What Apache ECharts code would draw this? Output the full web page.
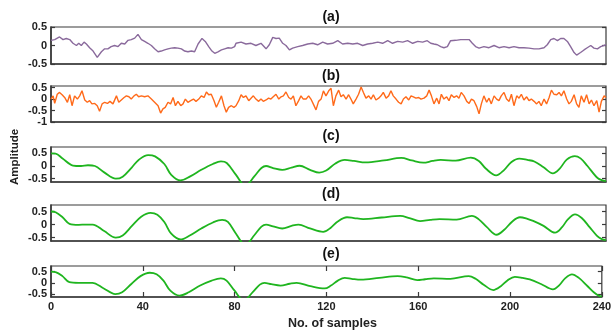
<!DOCTYPE html>
<html>
<head>
<meta charset="utf-8">
<script src="https://cdn.jsdelivr.net/npm/echarts@6/dist/echarts.min.js"></script>
<style>
  html, body { margin: 0; padding: 0; background: #fff; }
  #chart { width: 614px; height: 331px; }
</style>
</head>
<body>
<div id="chart"></div>
<script>
// sample positions on the x axis
const xTickValues = [0, 40, 80, 120, 160, 200, 240];
const panelTitles = ['(a)', '(b)', '(c)', '(d)', '(e)'];

// (a) purple noisy trace
const aX = [0, 1.6, 3.7, 5.2, 6.6, 8.1, 9.5, 11, 12, 13.1, 14.3, 15.3, 16.7, 18.2, 20, 21.8, 23.2, 24.6, 26, 27.5,
  29, 30.4, 31.9, 33.3, 34.7, 36.2, 37.6, 39.1, 40.5, 41.9, 43.4, 44.8, 46.3, 47.7, 49.1, 50.6, 52, 53.5, 54.9, 56.4,
  57.8, 59.2, 60.7, 62.1, 63.6, 65.3, 66.7, 68.2, 69.6, 70.8, 72.2, 73.7, 75.1, 76.6, 78, 79.4,
  80, 82.2, 84.3, 86.5, 88.6, 90.8, 93, 94.4, 95.9, 97.3, 98.7, 100.2, 101.6, 103.1, 104.5, 106.7, 108.8, 111, 113.2, 115.3,
  117.5, 119.6, 121.8, 124, 126.1, 128.3, 130.5, 132.6, 134.8, 136.9, 139.1, 141.3, 143.4, 145.6, 147.7, 149.9, 152.1, 154.2, 156.4, 158.6, 160.7,
  161.3, 162.7, 164.2, 165.6, 167.1, 168.5, 169.9, 171.4, 172.8, 175, 177.2, 179.3, 180.8, 182.2, 183.6, 185.1, 187.2, 189.4, 191.6, 193.7,
  195.9, 198.1, 200.2, 202.4, 204.5, 206.7, 208.9, 211, 213.2, 214.6, 216.1, 217.5, 219, 220.4, 221.8, 223.3, 224.7, 226.2, 227.3, 229,
  230.5, 231.9, 233.4, 234.8, 236.3, 237.7, 240];
const aY = [0.14, 0.16, 0.23, 0.16, 0.19, 0.16, 0.06, 0, 0.06, 0, 0.09, 0.04, -0.06, -0.15, -0.32, -0.17, -0.09, -0.09, -0.03, 0,
  -0.03, 0.06, 0.04, 0.14, 0.16, 0.2, 0.3, 0.16, 0.11, 0.06, 0, -0.09, -0.17, -0.15, -0.12, -0.09, -0.07, -0.06, -0.07, -0.09,
  -0.15, -0.17, -0.15, -0.17, 0.04, 0.19, 0.11, -0.03, -0.15, -0.21, -0.17, -0.12, -0.09, -0.06, -0.07, -0.03,
  0.06, 0.09, 0.04, 0.06, 0, 0.06, -0.09, 0.02, 0.22, 0.19, 0.2, 0.06, 0, -0.12, -0.07, -0.03, 0, 0.04, 0.06, 0.02,
  0.09, 0.04, 0.06, 0.13, 0.04, 0.06, 0.04, 0.06, 0, 0.04, 0.06, 0.09, 0.06, 0.13, 0.06, 0.11, 0.09, 0.13, 0.06, 0.11, 0.09,
  0.09, 0.13, 0.06, 0.04, 0.02, -0.03, -0.06, -0.03, 0.13, 0.14, 0.16, 0.16, 0.16, 0.06, -0.03, -0.07, -0.03, -0.06, 0, -0.06,
  -0.03, -0.06, -0.03, -0.06, -0.06, -0.07, -0.09, -0.09, -0.06, 0.02, 0.16, 0.19, 0.13, 0.19, 0.19, 0.11, -0.03, -0.19, -0.26, -0.19,
  -0.12, -0.06, 0, -0.07, -0.09, -0.03, 0.02];

// (b) orange noisy trace
const bX = [0, 0.9, 1.6, 2.7, 3.7, 4.8, 5.9, 7.1, 8.1, 9.1, 10.2, 11.4, 12.4, 13.4, 14.6, 15.7, 16.7, 17.7, 18.9, 20,
  21, 22.1, 23.2, 24.4, 25.5, 26.8, 28.3, 29.3, 30.4, 31.6, 32.6, 33.7, 34.7, 35.9, 36.9, 37.9, 39.1, 40.5, 41.9, 43.4,
  44.8, 46.3, 47.4, 48.4, 49.4, 50.6, 51.7, 52.8, 53.8, 54.9, 56.1, 57.1, 58.1, 59.2, 60.4, 61.6, 62.7, 63.9, 65, 66.2,
  67.2, 68.2, 69.3, 70.5, 71.5, 72.5, 73.7, 74.8, 75.8, 76.8, 78, 79.1,
  80, 81.2, 82.2, 83.2, 84.3, 85.5, 86.5, 87.5, 88.6, 89.8, 90.8, 91.8, 93, 94.1, 95.1, 96.1, 97.3, 98.5, 99.5, 100.5,
  101.6, 102.8, 103.8, 104.8, 105.9, 107.1, 108.1, 109.1, 110.3, 111.4, 112.4, 113.4, 114.6, 115.7, 116.8, 117.8, 118.9, 120.1, 121.1, 122.1,
  123.2, 124.4, 125.4, 126.4, 127.6, 128.7, 129.7, 130.7, 131.9, 133, 134.1, 135.1, 136.2, 137.4, 138.4, 139.4, 140.5, 141.7, 142.7, 143.7,
  144.9, 146, 147, 148, 149.2, 150.3, 151.4, 152.4, 153.5, 154.7, 155.7, 156.7, 157.8, 159, 160,
  161.3, 162.5, 163.5, 164.5, 165.6, 166.8, 167.8, 168.8, 169.9, 171.1, 172.1, 173.1, 174.3, 175.4, 176.4, 177.4, 178.6, 179.8, 180.8, 181.8,
  182.9, 184.1, 185.1, 186.1, 187.2, 188.4, 189.4, 190.4, 191.6, 192.7, 193.7, 194.7, 195.9, 197, 198.1, 199.1, 200.2, 201.4, 202.4, 203.4,
  204.5, 205.7, 206.7, 207.7, 208.9, 210, 211, 212, 213.2, 214.3, 215.4, 216.4, 217.5, 218.7, 219.7, 220.7, 221.8, 223, 224, 225,
  226.2, 227.3, 228.3, 229.3, 230.5, 231.6, 232.7, 233.7, 234.8, 236, 237, 238, 239.2, 240];
const bY = [0, 0.14, -0.19, 0.21, 0.29, 0.19, 0.07, -0.14, 0.19, -0.29, 0.14, 0, 0.14, 0.36, -0.04, -0.14, -0.07, -0.21, -0.19, -0.29,
  -0.53, -0.21, -0.14, -0.19, -0.1, -0.21, 0.14, -0.14, -0.04, 0.07, 0.14, 0.1, 0, 0.14, 0.21, 0.1, 0.14, 0.1, 0.14, 0,
  -0.14, -0.29, -0.61, -0.43, -0.36, -0.14, -0.21, 0.07, -0.29, -0.1, -0.29, -0.21, 0, -0.14, -0.07, 0, -0.1, 0, 0.14, 0.07,
  0.31, 0.19, 0.21, -0.07, -0.36, -0.14, 0.14, -0.29, -0.57, -0.36, -0.29, -0.36,
  -0.29, -0.07, 0.19, 0.07, 0.14, -0.07, 0.04, 0.14, 0, -0.1, 0, -0.1, -0.04, 0.04, 0, 0.1, 0.21, 0, 0.1, 0.14,
  0.31, 0.07, 0, 0.14, -0.29, -0.07, 0.14, 0, 0, 0.14, 0, -0.21, -0.47, -0.1, 0, 0.36, 0.14, 0.36, 0.47, -0.29,
  0.14, 0.39, 0.1, 0.19, 0, 0.19, 0, -0.21, 0, 0.21, 0.53, 0.29, 0.04, 0.14, 0, 0.19, -0.04, 0.04, 0.14, 0.29,
  0.04, 0.14, 0.36, 0.14, 0, -0.14, -0.21, 0, 0.1, -0.04, 0.14, 0.1, 0.04, 0.07, 0,
  0.04, 0.14, 0.39, 0.14, -0.21, 0.04, -0.21, 0.21, 0, 0.1, -0.07, 0.19, 0.07, 0.14, 0.04, 0.29, 0.14, -0.1, -0.19, 0,
  -0.07, -0.33, -0.64, -0.21, 0.14, -0.14, 0.04, -0.21, 0.14, 0, -0.07, 0.14, 0.29, 0, -0.1, 0.21, -0.29, 0.14, 0.04, 0.21,
  -0.04, 0.1, -0.07, 0, -0.1, -0.21, -0.1, -0.29, 0, -0.21, 0.07, 0.39, 0.21, 0.19, 0.29, 0.14, 0.36, 0, -0.21, -0.1,
  0.19, -0.21, -0.36, 0.14, -0.14, 0.19, -0.21, -0.04, -0.29, -0.07, -0.57, -0.1, 0.14, 0.07];

// (c) smooth green trace
const cX = [0, 2, 5, 9.5, 13, 16, 19, 23, 28, 31, 35, 38, 42, 45, 49, 52, 56, 60, 65, 70,
  73.5, 76, 80, 84, 88, 91, 93, 96, 100, 104, 107.5, 112, 116, 119, 123, 127, 131, 136, 144, 151.5,
  156, 161, 165, 168.5, 175, 181.5, 185, 188, 192.5, 196, 199, 202.5, 206, 209, 213, 217, 220, 223, 226.5, 229,
  232, 236.5, 240];
const cY = [0.5, 0.49, 0.3, 0.02, 0, 0.03, 0, -0.25, -0.5, -0.42, -0.05, 0.25, 0.43, 0.38, 0.08, -0.35, -0.57, -0.42, -0.15, 0.08,
  0.18, 0.12, -0.35, -0.78, -0.4, -0.08, 0, -0.08, -0.15, -0.06, 0.01, -0.15, -0.26, -0.18, 0.1, 0.24, 0.2, 0.14, 0.22, 0.32,
  0.22, 0.13, 0.2, 0.24, 0.21, 0.33, 0.2, -0.1, -0.37, -0.15, 0.15, 0.29, 0.24, 0.18, -0.05, -0.29, -0.1, 0.25, 0.39, 0.3,
  0, -0.48, -0.6];

// (d) smooth green trace
const dX = [0, 2, 5, 8, 12, 15, 18, 23, 28, 31, 35, 39, 43, 46, 49, 52, 56, 60, 65, 70,
  74, 76.5, 80, 84, 88, 91, 93, 96, 100, 104, 107, 112, 117.7, 121, 124, 128, 131, 135, 143, 151,
  155, 159.6, 164, 168, 175.4, 182, 185, 188.5, 192.7, 196, 199.5, 202.8, 206, 208.5, 213, 218, 221, 223.5, 226.6, 229.5,
  233, 236, 238, 240];
const dY = [0.5, 0.47, 0.28, 0.03, -0.01, 0, 0, -0.25, -0.5, -0.42, -0.05, 0.3, 0.45, 0.38, 0.1, -0.35, -0.57, -0.42, -0.15, 0.08,
  0.18, 0.1, -0.35, -0.78, -0.4, -0.08, 0, -0.07, -0.15, -0.05, 0, -0.15, -0.28, -0.12, 0.12, 0.28, 0.25, 0.21, 0.27, 0.33,
  0.25, 0.13, 0.18, 0.21, 0.19, 0.33, 0.2, -0.1, -0.39, -0.2, 0.12, 0.28, 0.22, 0.14, -0.05, -0.31, -0.1, 0.2, 0.39, 0.25,
  -0.11, -0.42, -0.55, -0.6];

// (e) smooth green trace
const eX = [0, 2, 5, 8, 12, 15, 18, 23, 28, 31, 35, 39, 43, 46, 49, 52, 56, 60, 65, 70,
  74, 76.5, 80, 84, 88, 91, 93, 96, 100, 104, 107, 113, 119.2, 122, 125, 128, 131, 135, 143, 151,
  155, 159.6, 163, 166.8, 174, 182, 185, 188.5, 192.7, 196, 199, 202.1, 205.5, 208.6, 213.5, 218.7, 221.5, 224, 227, 230,
  233.7, 236.5, 238.8, 240];
const eY = [0.5, 0.48, 0.3, 0.03, 0, 0, 0, -0.25, -0.5, -0.42, -0.05, 0.3, 0.45, 0.38, 0.1, -0.35, -0.57, -0.42, -0.12, 0.1,
  0.2, 0.1, -0.35, -0.78, -0.4, -0.08, 0, -0.06, -0.12, -0.04, 0, -0.15, -0.25, -0.12, 0.1, 0.22, 0.18, 0.14, 0.22, 0.3,
  0.24, 0.12, 0.16, 0.2, 0.18, 0.3, 0.18, -0.08, -0.32, -0.15, 0.12, 0.27, 0.22, 0.15, -0.05, -0.29, -0.1, 0.2, 0.38, 0.22,
  -0.14, -0.42, -0.58, -0.6];

const pairs = (xs, ys) => xs.map((x, i) => [x, ys[i]]);

const chart = echarts.init(document.getElementById('chart'));

const font = 'Liberation Sans, Arial, Helvetica, sans-serif';
const frameColor = '#3a3a3a';

const panels = [
  { top: 27, height: 37, min: -0.5, max: 0.5, ticks: [-0.5, 0, 0.5], data: pairs(aX, aY), color: '#8a6a9c', width: 1.4, smooth: false, titleY: 17 },
  { top: 86, height: 36, min: -1, max: 0.57, ticks: [-1, -0.5, 0, 0.5], data: pairs(bX, bY), color: '#ff6a1a', width: 1.4, smooth: false, titleY: 76 },
  { top: 147, height: 35, min: -0.63, max: 0.75, ticks: [-0.5, 0, 0.5], data: pairs(cX, cY), color: '#1fb51f', width: 1.8, smooth: 0.35, titleY: 136 },
  { top: 205, height: 36, min: -0.63, max: 0.75, ticks: [-0.5, 0, 0.5], data: pairs(dX, dY), color: '#1fb51f', width: 1.8, smooth: 0.35, titleY: 194 },
  { top: 266, height: 36, min: -0.63, max: 0.75, ticks: [-0.5, 0, 0.5], data: pairs(eX, eY), color: '#1fb51f', width: 1.8, smooth: 0.35, titleY: 254 }
];

const grid = [], xAxis = [], yAxis = [], series = [], graphic = [];

panels.forEach((p, i) => {
  const last = i === panels.length - 1;
  grid.push({
    left: 51, right: 8, top: p.top, height: p.height,
    show: true, borderColor: frameColor, borderWidth: 1.2, backgroundColor: '#fff'
  });
  // bottom x axis
  xAxis.push({
    type: 'value', gridIndex: i, min: 0, max: 240, interval: 40,
    axisLine: { show: true, onZero: false, lineStyle: { color: frameColor, width: 1.6 } },
    axisTick: { show: last, inside: true, length: 5, lineStyle: { color: frameColor, width: 1.2 } },
    axisLabel: { show: last, color: '#222', fontSize: 11, fontWeight: 'bold', fontFamily: font, margin: 4 },
    splitLine: { show: false },
    name: last ? 'No. of samples' : '',
    nameLocation: 'middle', nameGap: 20,
    nameTextStyle: { color: '#222', fontSize: 12.5, fontWeight: 'bold', fontFamily: font, padding: [0, 0, 0, 12] }
  });
  // top x axis (ticks only, on the last panel)
  xAxis.push({
    type: 'value', gridIndex: i, position: 'top', min: 0, max: 240, interval: 40,
    axisLine: { show: false, onZero: false },
    axisTick: { show: last, inside: true, length: 5, lineStyle: { color: frameColor, width: 1.2 } },
    axisLabel: { show: false },
    splitLine: { show: false }
  });
  // left y axis with labels
  yAxis.push({
    type: 'value', gridIndex: i, min: p.min, max: p.max,
    axisLine: { show: true, onZero: false, lineStyle: { color: frameColor, width: 1.6 } },
    axisTick: { show: true, inside: true, length: 4, customValues: p.ticks, lineStyle: { color: frameColor, width: 1.2 } },
    axisLabel: { color: '#222', fontSize: 11, fontWeight: 'bold', fontFamily: font, margin: 4, customValues: p.ticks },
    splitLine: { show: false }
  });
  // right y axis, ticks only
  yAxis.push({
    type: 'value', gridIndex: i, position: 'right', min: p.min, max: p.max,
    axisLine: { show: false, onZero: false },
    axisTick: { show: true, inside: true, length: 4, customValues: p.ticks, lineStyle: { color: frameColor, width: 1.2 } },
    axisLabel: { show: false },
    splitLine: { show: false }
  });
  series.push({
    type: 'line',
    xAxisIndex: i * 2,
    yAxisIndex: i * 2,
    data: p.data,
    symbol: 'none',
    smooth: p.smooth,
    lineStyle: { color: p.color, width: p.width },
    clip: true
  });
  graphic.push({
    type: 'text', x: 331, y: p.titleY,
    style: { text: panelTitles[i], fill: '#111', font: 'bold 14px ' + font, align: 'center', verticalAlign: 'middle' }
  });
});

graphic.push({
  type: 'text', x: 15, y: 157, rotation: Math.PI / 2,
  style: { text: 'Amplitude', fill: '#222', font: 'bold 11.5px ' + font, align: 'center', verticalAlign: 'middle' }
});

chart.setOption({
  backgroundColor: '#fff',
  animation: false,
  grid, xAxis, yAxis, series, graphic
});
</script>
</body>
</html>
